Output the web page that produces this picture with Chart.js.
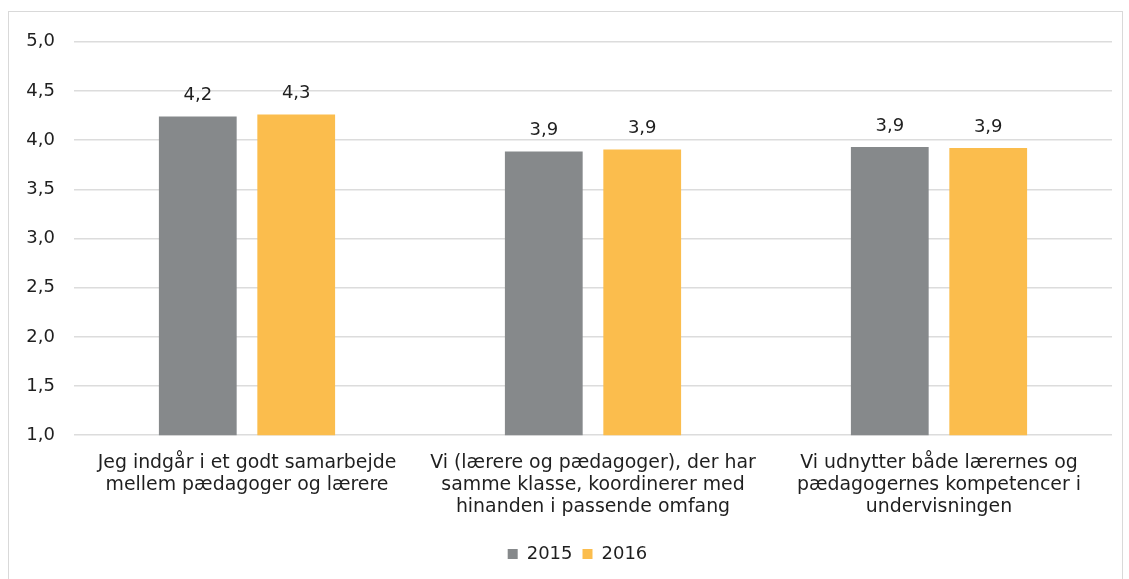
<!DOCTYPE html>
<html>
<head>
<meta charset="utf-8">
<script src="https://cdn.jsdelivr.net/npm/chart.js@4"></script>
<style>
  body { margin: 0; background: #fff; }
  #wrap { position: absolute; left: 8px; top: 11px; width: 1113px; height: 570px; border: 1px solid #d9d9d9; }
</style>
</head>
<body>
<div id="wrap"><canvas id="chart" width="1113" height="570"></canvas></div>
<script>
const categories = [
  ['Jeg indgår i et godt samarbejde', 'mellem pædagoger og lærere'],
  ['Vi (lærere og pædagoger), der har', 'samme klasse, koordinerer med', 'hinanden i passende omfang'],
  ['Vi udnytter både lærernes og', 'pædagogernes kompetencer i', 'undervisningen']
];
const values2015 = [4.24, 3.885, 3.93];
const values2016 = [4.26, 3.905, 3.92];
const seriesNames = ['2015', '2016'];
const yTicks = { min: 1, max: 5, step: 0.5 };

const fmt = v => v.toFixed(1).replace('.', ',');
const fontFamily = '"DejaVu Sans", Verdana, sans-serif';
const textColor = '#1f1f1f';

const valueLabels = {
  id: 'valueLabels',
  afterDatasetsDraw(chart) {
    const ctx = chart.ctx;
    ctx.save();
    ctx.font = '18px ' + fontFamily;
    ctx.fillStyle = textColor;
    ctx.textAlign = 'center';
    ctx.textBaseline = 'middle';
    chart.data.datasets.forEach((ds, i) => {
      chart.getDatasetMeta(i).data.forEach((bar, j) => {
        ctx.fillText(fmt(ds.data[j]), bar.x, bar.y - 21);
      });
    });
    ctx.restore();
  }
};

// nudge the legend a bit right, like the original
const legendShift = {
  id: 'legendShift',
  afterLayout(chart) {
    if (chart.legend) {
      chart.legend.left += 17;
      chart.legend.right += 17;
    }
  }
};

new Chart(document.getElementById('chart'), {
  type: 'bar',
  data: {
    labels: categories,
    datasets: [
      { label: seriesNames[0], data: values2015, backgroundColor: '#86898b' },
      { label: seriesNames[1], data: values2016, backgroundColor: '#fbbd4d' }
    ]
  },
  options: {
    responsive: false,
    animation: false,
    devicePixelRatio: 1,
    layout: { padding: { top: 28, right: 10, left: 0, bottom: 9 } },
    datasets: { bar: { categoryPercentage: 0.569, barPercentage: 0.79 } },
    scales: {
      x: {
        grid: { display: false, drawTicks: false },
        border: { display: false },
        ticks: { color: textColor, padding: 17, font: { family: fontFamily, size: 18.9, lineHeight: 1.16 }, maxRotation: 0 }
      },
      y: {
        min: yTicks.min,
        max: yTicks.max,
        grid: { color: '#dcdcdc', lineWidth: 1.5, drawTicks: false },
        border: { display: false },
        ticks: {
          stepSize: yTicks.step,
          color: textColor,
          padding: 19,
          font: { family: fontFamily, size: 18 },
          callback: v => fmt(v)
        },
        afterFit: s => { s.width = 65; }
      }
    },
    plugins: {
      legend: {
        position: 'bottom',
        labels: { color: textColor, boxWidth: 10, boxHeight: 10, padding: 10, font: { family: fontFamily, size: 18 } }
      },
      tooltip: { enabled: false }
    }
  },
  plugins: [valueLabels, legendShift]
});
</script>
</body>
</html>
